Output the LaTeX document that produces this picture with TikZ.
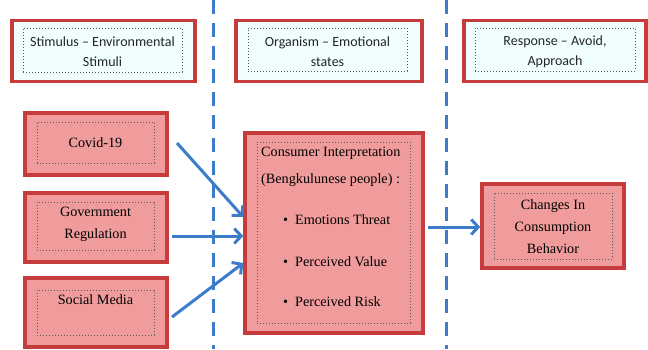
\documentclass[tikz,border=0pt]{standalone}
\usepackage{fontspec}
\setmainfont{Liberation Serif}
\newfontfamily\hdrfont{Carlito}
\usetikzlibrary{arrows.meta}
\definecolor{boxred}{HTML}{C63B3B}
\definecolor{boxpink}{HTML}{F09C9C}
\definecolor{hdrfill}{HTML}{F0FEFF}
\definecolor{arrowblue}{HTML}{3D7CC9}
\tikzset{
  outerbox/.style={draw=boxred, line width=3.4pt, rectangle, inner sep=0pt},
  redbox/.style={outerbox, fill=boxpink},
  hdrbox/.style={outerbox, fill=hdrfill},
  innerbox/.style={draw=gray!70!black, dotted, line width=1pt, rectangle, inner sep=0pt},
  hdrtext/.style={font=\hdrfont\fontsize{14}{20}\selectfont, align=center, inner sep=0pt, text=black!85},
  bodytext/.style={font=\fontsize{14.2}{22}\selectfont, inner sep=0pt, text=black},
  flow/.style={draw=arrowblue, line width=3pt, -{Straight Barb[length=7pt,width=15pt]}},
  divider/.style={draw=arrowblue, line width=3pt, dash pattern=on 14pt off 9pt}
}
\begin{document}
\begin{tikzpicture}[x=1pt,y=-1pt]
\useasboundingbox (0,0) rectangle (648,349);
% dividers
\coordinate (d1t) at (213,0); \coordinate (d1b) at (213,349);
\coordinate (d2t) at (446,0); \coordinate (d2b) at (446,349);
\draw[divider] (d1t) -- (d1b);
\draw[divider] (d2t) -- (d2b);
% header boxes
\node[hdrbox, minimum width=183pt, minimum height=61pt] (h1) at (103.5,51) {};
\node[innerbox, minimum width=159pt, minimum height=44pt] (h1i) at (102.5,50) {};
\node[hdrtext] (h1t) at (102.5,52) {Stimulus – Environmental\\Stimuli};
\node[hdrbox, minimum width=186pt, minimum height=61pt] (h2) at (329,51) {};
\node[innerbox, minimum width=159pt, minimum height=43pt] (h2i) at (327.5,49.5) {};
\node[hdrtext] (h2t) at (327.5,52) {Organism – Emotional\\states};
\node[hdrbox, minimum width=182pt, minimum height=61pt] (h3) at (555,51) {};
\node[innerbox, minimum width=160pt, minimum height=43pt] (h3i) at (555,49.5) {};
\node[hdrtext] (h3t) at (555,52) {Response – Avoid,\\Approach};
% stimulus boxes
\node[redbox, minimum width=142pt, minimum height=62pt] (covid) at (96,144) {};
\node[innerbox, minimum width=117pt, minimum height=41pt] (covidi) at (95.5,142.5) {};
\node[bodytext] (covidt) at (95.5,143) {Covid-19};
\node[redbox, minimum width=142pt, minimum height=69pt] (gov) at (96,227.5) {};
\node[innerbox, minimum width=117pt, minimum height=48pt] (govi) at (95.5,226) {};
\node[bodytext, align=center] (govt) at (95.5,224) {Government\\Regulation};
\node[redbox, minimum width=142pt, minimum height=69pt] (soc) at (96,312.5) {};
\node[innerbox, minimum width=117pt, minimum height=45pt] (soci) at (95.5,312.5) {};
\node[bodytext] (soct) at (95.5,300) {Social Media};
% organism box
\node[redbox, minimum width=178pt, minimum height=200pt] (org) at (334,233) {};
\node[innerbox, minimum width=153pt, minimum height=181pt] (orgi) at (333.5,232.5) {};
\node[bodytext, anchor=west] (orgt1) at (261,153) {Consumer Interpretation};
\node[bodytext, anchor=west] (orgt2) at (261,180) {(Bengkulunese people) :};
\node[bodytext, anchor=west] (b1) at (283,220) {\textbullet\hspace{7pt}Emotions Threat};
\node[bodytext, anchor=west] (b2) at (283,262) {\textbullet\hspace{7pt}Perceived Value};
\node[bodytext, anchor=west] (b3) at (283,302) {\textbullet\hspace{7pt}Perceived Risk};
% response box
\node[redbox, minimum width=142pt, minimum height=84pt] (resp) at (553,226) {};
\node[innerbox, minimum width=118pt, minimum height=66pt] (respi) at (553,226) {};
\node[bodytext, align=center] (respt) at (553,227) {Changes In\\Consumption\\Behavior};
% arrows
\coordinate (a1s) at (177,143);
\coordinate (a2s) at (172,236);
\coordinate (a3s) at (172,317);
\coordinate (a4s) at (428,227);
\draw[flow] (a1s) -- (org.west |- 0,217);
\draw[flow] (a2s) -- (org.west |- 0,236);
\draw[flow] (a3s) -- (org.west |- 0,263);
\draw[flow] (a4s) -- (resp.west |- 0,227);
\end{tikzpicture}
\end{document}
